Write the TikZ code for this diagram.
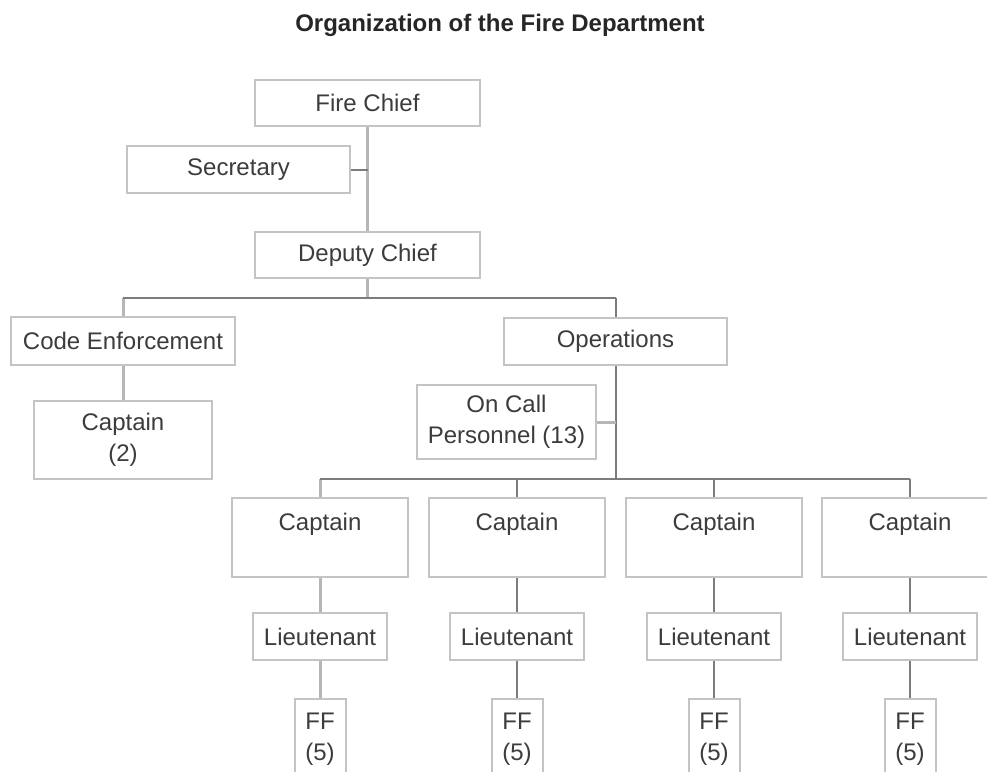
\documentclass[tikz,border=0pt]{standalone}
\usepackage{fontspec}
\setmainfont{Liberation Sans}
\usepackage{xcolor}
\usepackage{tikz}
\usetikzlibrary{calc}

\definecolor{rahmen}{HTML}{C4C4C4}
\definecolor{schrift}{HTML}{3C3C3C}
\definecolor{liniedunkel}{HTML}{7C7C7C}
\definecolor{liniehell}{HTML}{B6B6B6}

\tikzset{
	posten/.style={rectangle, draw=rahmen, line width=1pt, fill=white, text=schrift, inner sep=0pt, align=center, font=\fontsize{12}{15.5}\selectfont},
	linie/.style={draw=liniedunkel, line width=1pt},
	liniehell/.style={draw=liniehell, line width=1.5pt},
}

\begin{document}
\begin{tikzpicture}[x=0.5pt, y=-0.5pt, inner sep=0pt]

	\useasboundingbox (0,0) rectangle (987,772);

	\node[anchor=base, text=black!85, font=\bfseries\fontsize{12}{14}\selectfont](titel) at (500,31) {Organization of the Fire Department};

	% Leitung
	\node[posten, minimum width=112.5pt, minimum height=23pt](chief) at (367.5,103) {Fire Chief};
	\node[posten, minimum width=111.5pt, minimum height=23.5pt](secretary) at (238.5,169.5) {Secretary};
	\node[posten, minimum width=112.5pt, minimum height=23pt](deputy) at (367.5,255) {Deputy Chief};

	\node[posten, minimum width=112pt, minimum height=24pt](code) at (123,341) {Code Enforcement};
	\node[posten, minimum width=111.5pt, minimum height=23.5pt](ops) at (615.5,341.5) {Operations};

	\node[posten, minimum width=89pt, minimum height=39pt](captwo) at (123,440) {Captain\\(2)};
	\node[posten, minimum width=89.5pt, minimum height=37pt](oncall) at (506.5,422) {On Call\\Personnel (13)};

	% Wachen
	\node[posten, minimum width=88pt, minimum height=39.5pt](capa) at (320,537.5) {Captain\\~};
	\node[posten, minimum width=88pt, minimum height=39.5pt](capb) at (517,537.5) {Captain\\~};
	\node[posten, minimum width=88pt, minimum height=39.5pt](capc) at (714,537.5) {Captain\\~};
	\node[posten, minimum width=88pt, minimum height=39.5pt](capd) at (910,537.5) {Captain\\~};

	\node[posten, minimum width=67pt, minimum height=23.5pt](lta) at (320,636.5) {Lieutenant};
	\node[posten, minimum width=67pt, minimum height=23.5pt](ltb) at (517,636.5) {Lieutenant};
	\node[posten, minimum width=67pt, minimum height=23.5pt](ltc) at (714,636.5) {Lieutenant};
	\node[posten, minimum width=67pt, minimum height=23.5pt](ltd) at (910,636.5) {Lieutenant};

	\node[posten, minimum width=25.5pt, minimum height=40pt](ffa) at (320,739) {FF\\(5)};
	\node[posten, minimum width=25.5pt, minimum height=40pt](ffb) at (517,739) {FF\\(5)};
	\node[posten, minimum width=25.5pt, minimum height=40pt](ffc) at (714,739) {FF\\(5)};
	\node[posten, minimum width=25.5pt, minimum height=40pt](ffd) at (910,739) {FF\\(5)};

	\coordinate (teilung) at (367.5,298);
	\coordinate (teilung2) at (615.5,479);

	% senkrechte Linien
	\draw[liniehell](chief) -- (deputy);
	\draw[linie](secretary.east) -- (secretary.east -| chief.south);
	\draw[liniehell](deputy.south) -- (teilung);
	\draw[liniehell](code.north |- teilung) -- (code.north);
	\draw[linie](ops.north |- teilung) -- (ops.north);
	\draw[liniehell](code) -- (captwo);
	\draw[linie](ops.south) -- (teilung2);
	\draw[liniehell](oncall.east) -- (oncall.east -| ops.south);

	\draw[liniehell](capa.north |- teilung2) -- (capa.north);
	\draw[linie](capb.north |- teilung2) -- (capb.north);
	\draw[linie](capc.north |- teilung2) -- (capc.north);
	\draw[linie](capd.north |- teilung2) -- (capd.north);

	\draw[liniehell](capa) -- (lta);
	\draw[linie](capb) -- (ltb);
	\draw[linie](capc) -- (ltc);
	\draw[linie](capd) -- (ltd);

	\draw[liniehell](lta) -- (ffa);
	\draw[linie](ltb) -- (ffb);
	\draw[linie](ltc) -- (ffc);
	\draw[linie](ltd) -- (ffd);

	% horizontale Linien
	\draw[linie](code.north |- teilung) -- (ops.north |- teilung);
	\draw[linie](capa.north |- teilung2) -- (capd.north |- teilung2);

\end{tikzpicture}
\end{document}
